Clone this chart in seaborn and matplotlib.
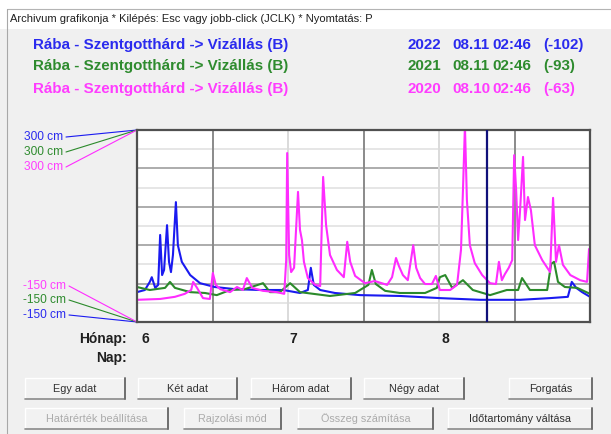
import numpy as np
import matplotlib
matplotlib.use("Agg")
import matplotlib.pyplot as plt
from matplotlib.patches import Rectangle
from matplotlib.transforms import blended_transform_factory
import seaborn as sns

import warnings
warnings.filterwarnings('ignore')

# --- data: day 0 = June 1, day 92 = end of August; water level in cm ---
days_2022 = [0, 1.6, 2.6, 3.0, 3.7, 4.3, 4.7, 5.1, 5.5, 6.1, 6.5, 6.9, 7.3, 7.9, 8.3, 9.1,
             10.8, 12.8, 15.8, 19.9, 25, 29.7, 33.1, 34.7, 35.3, 35.9, 37.2, 40.2, 45.3,
             53.4, 61.5, 69.7, 77.8, 83.9, 87.5, 88.3, 89.2, 90.4, 92]
level_2022 = [-80, -75, -56, -45, -70, -63, 54, -40, -28, 77, -9, -33, 7, 131, 30, -9,
              -40, -59, -68, -73, -75, -75, -82, -75, -23, -63, -75, -82, -87,
              -89, -94, -98, -98, -94, -91, -56, -70, -80, -91]

days_2021 = [0, 2.6, 5.7, 6.7, 7.7, 10.8, 13.8, 16.2, 18.9, 21.9, 25.6, 27, 29, 31.1, 33.1,
             39.2, 44.3, 47, 47.7, 48.5, 50.4, 53.4, 58.5, 60.9, 61.5, 62.6, 64, 66.2, 68.2,
             71.7, 75.1, 77.4, 78.2, 79.8, 83.3, 84.1, 84.7, 85.5, 86.9, 89.4, 92]
level_2021 = [-68, -75, -70, -56, -70, -80, -82, -87, -75, -73, -59, -80, -80, -59, -80,
              -89, -82, -63, -28, -61, -77, -82, -82, -70, -45, -40, -70, -52, -75,
              -87, -75, -75, -47, -75, -75, -14, -9, -56, -68, -70, -84]

days_2020 = [0, 4.7, 7.7, 9.7, 11, 11.4, 12.2, 13.4, 14.8, 15.4, 16, 16.9, 18.9, 20.3, 21.5,
             22.3, 23.4, 25.6, 28.4, 29.9, 30.3, 30.5, 30.9, 31.3, 31.9, 32.7, 33.1, 33.5,
             33.9, 34.7, 36.2, 37.2, 37.8, 38.4, 39.2, 40.6, 42, 42.7, 43.3, 44.3, 46.3,
             48.3, 50.8, 51.8, 52.6, 53.2, 54, 55, 56.1, 56.7, 57.5, 58.5, 59.9, 60.7, 61.5,
             63.6, 65, 65.8, 66.2, 66.6, 67, 67.6, 68.6, 70.1, 71.7, 72.9, 73.5, 74.1, 74.7,
             75.5, 76.2, 76.6, 77, 77.4, 77.8, 78.4, 78.8, 79.4, 80, 80.8, 82.3, 83.9, 84.5,
             85.1, 85.7, 86.5, 88, 90, 91.4, 91.8, 92]
level_2020 = [-98, -96, -91, -84, -75, -56, -70, -94, -96, -35, -63, -73, -80, -68, -75,
              -47, -70, -77, -80, -84, -5, 246, 7, -33, -23, 155, 66, 42,
              -9, -47, -63, -66, 190, 77, 7, -28, -45, 38, -9, -42, -59,
              -54, -63, -45, 0, -19, -40, -52, 30, -23, -47, -61, -61, -42, -75,
              -75, -63, 19, 159, 310, 136, 30, -12, -40, -59, -61, -9, -52, -38,
              -23, -5, 241, 159, 42, 112, 237, 89, 143, 112, 30, -5, -33, 141,
              -9, 30, -16, -40, -52, -56, 21, 10]

years = ["2022", "2021", "2020"]
dates = ["08.11", "08.11", "08.10"]
clock = "02:46"
current = [-102, -93, -63]
station = "Rába - Szentgotthárd -> Vizállás (B)"
colors = ["#1a1af0", "#2b8a2b", "#ff2cff"]
text_colors = ["#2a2aee", "#2e8b2e", "#ff3cff"]

y_min, y_max = -150, 300
x_end = 92
cursor_day = 71.1
month_names = ["6", "7", "8"]
month_start = [0, 30, 61]

series = [(days_2022, level_2022), (days_2021, level_2021), (days_2020, level_2020)]

sns.set_style("white")
plt.rcParams['font.family'] = ['Liberation Sans', 'DejaVu Sans']

W, H = 611, 434
fig = plt.figure(figsize=(W / 100, H / 100), dpi=100)
fig.patch.set_facecolor("#f0f0f0")

# background layer in pixel coordinates
bg = fig.add_axes([0, 0, 1, 1])
bg.set_xlim(0, W)
bg.set_ylim(H, 0)
bg.axis("off")
bg.set_zorder(0)

bg.add_patch(Rectangle((0, 0), W, 29, facecolor="white", edgecolor="none"))
bg.plot([7, W], [8.5, 8.5], color="#b4b4b4", lw=0.8)
bg.plot([7, 7], [8.5, H], color="#a8a8a8", lw=0.8)
bg.text(10, 18.5, "Archivum grafikonja * Kilépés: Esc vagy jobb-click (JCLK) * Nyomtatás: P",
        fontsize=8, color="#202020", va="center")

row_y = [45, 66, 89]
hdr = dict(fontsize=10.9, fontweight="bold", va="center")
for i in range(3):
    bg.text(33, row_y[i], station, color=text_colors[i], **hdr)
    bg.text(408, row_y[i], years[i], color=text_colors[i], **hdr)
    bg.text(452, row_y[i], dates[i], color=text_colors[i], **hdr)
    bg.text(492, row_y[i], clock, color=text_colors[i], **hdr)
    bg.text(543, row_y[i], f"({current[i]})", color=text_colors[i], **hdr)

# main chart
ax = fig.add_axes([137 / W, 1 - 322 / H, 453 / W, 192 / H])
ax.set_zorder(1)
ax.set_facecolor("white")
ax.set_xlim(0, x_end)
ax.set_ylim(y_min, y_max)

ygrid = np.linspace(y_min, y_max, 11)
for k, yv in enumerate(ygrid[1:-1], start=1):
    ax.axhline(yv, color="#acacac" if k % 2 == 0 else "#e6e6e6", lw=1.4, zorder=0)
xgrid = np.linspace(0, x_end, 7)
for k, xv in enumerate(xgrid[1:-1], start=1):
    ax.axvline(xv, color="#8a8a8a" if k % 2 == 1 else "#dadada", lw=1.4, zorder=0)

for (d, v), c in zip(series, colors):
    sns.lineplot(x=d, y=v, ax=ax, color=c, lw=1.5, zorder=2)

ax.axvline(cursor_day, color="#10107a", lw=1.6, zorder=3)

ax.set_xticks([])
ax.set_yticks([])
ax.set_xlabel("")
ax.set_ylabel("")
for s in ax.spines.values():
    s.set_visible(True)
    s.set_color("#505050")
    s.set_linewidth(1.6)

# axis labels on the left, joined to the plot corners
top_y = [137, 152, 167]
bot_y = [315, 300, 286]
for i in range(3):
    bg.text(63, top_y[i], f"{y_max} cm", color=text_colors[i], fontsize=8.6, ha="right", va="center")
    bg.plot([66, 137], [top_y[i], 130], color=colors[i], lw=0.8)
    bg.text(66, bot_y[i], f"{y_min} cm", color=text_colors[i], fontsize=8.6, ha="right", va="center")
    bg.plot([69, 137], [bot_y[i], 322], color=colors[i], lw=0.8)

# month row
tr = blended_transform_factory(ax.transData, bg.transData)
for name, start in zip(month_names, month_start):
    ax.text(start + 0.9, 339, name, transform=tr, fontsize=10, fontweight="bold",
            color="#202020", ha="left", va="center")
bg.text(127, 339, "Hónap:", fontsize=10, fontweight="bold", color="#202020", ha="right", va="center")
bg.text(127, 358, "Nap:", fontsize=10, fontweight="bold", color="#202020", ha="right", va="center")

# buttons
buttons = [
    ("Egy adat", 25, 125, 378, True), ("Két adat", 138, 237, 378, True),
    ("Három adat", 251, 351, 378, True), ("Négy adat", 364, 464, 378, True),
    ("Forgatás", 509, 592, 378, True),
    ("Határérték beállítása", 25, 168, 408, False), ("Rajzolási mód", 184, 281, 408, False),
    ("Összeg számítása", 298, 433, 408, False), ("Időtartomány váltása", 448, 592, 408, True),
]
for label, x0, x1, y0, active in buttons:
    h = 21
    bg.add_patch(Rectangle((x0, y0), x1 - x0, h, facecolor="#f2f2f2", edgecolor="none"))
    bg.plot([x0, x1], [y0, y0], color="white", lw=1)
    bg.plot([x0, x0], [y0, y0 + h], color="white", lw=1)
    bg.plot([x0, x1], [y0 + h, y0 + h], color="#8a8a8a", lw=1.2)
    bg.plot([x1, x1], [y0, y0 + h], color="#6e6e6e", lw=1.4)
    bg.text((x0 + x1) / 2, y0 + h / 2, label, fontsize=7.8, ha="center", va="center",
            color="#303030" if active else "#ababab")

fig.savefig("out.png", dpi=100, facecolor=fig.get_facecolor())
